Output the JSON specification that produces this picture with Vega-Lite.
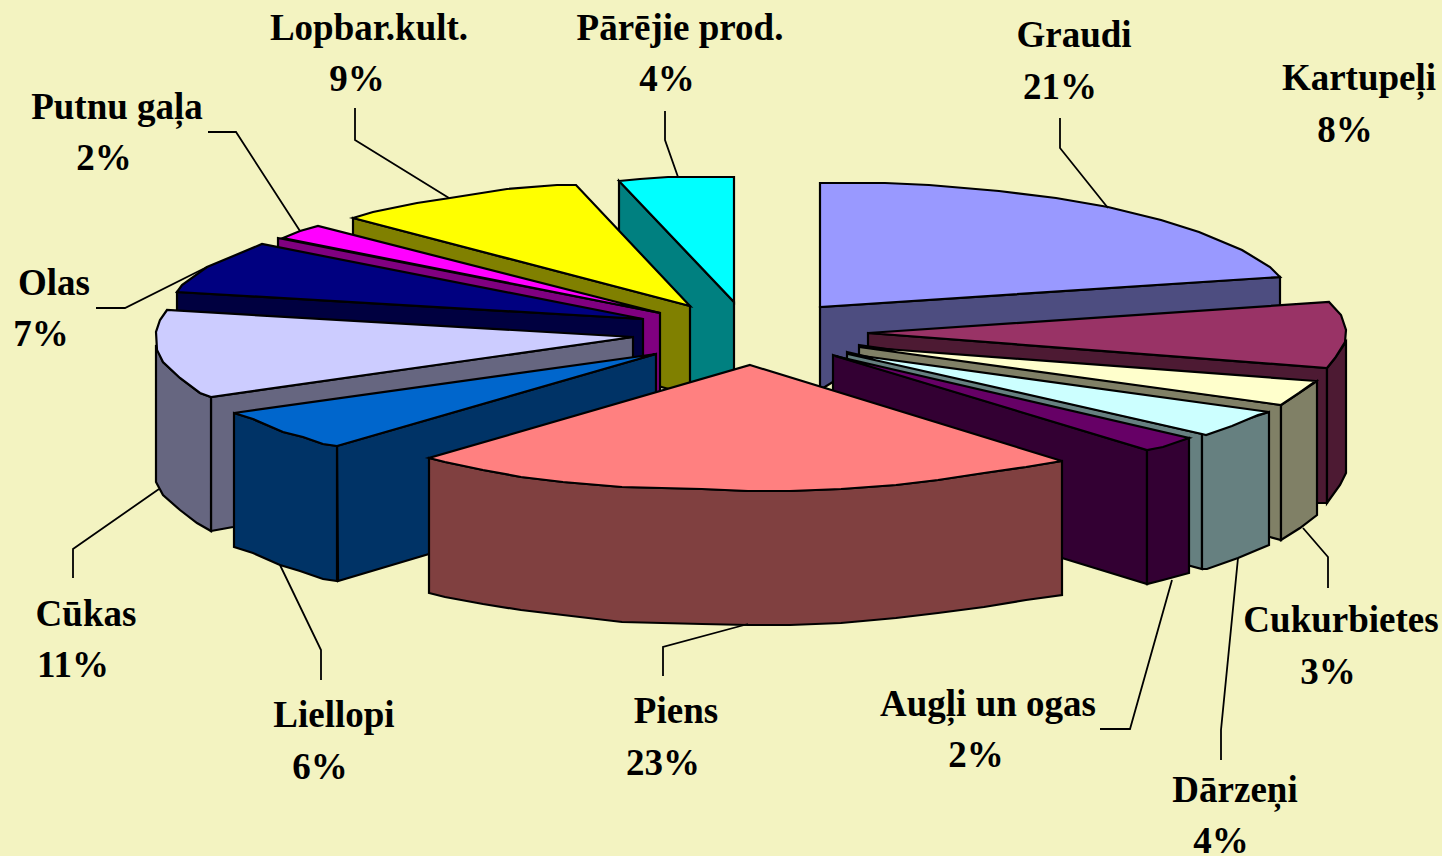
{"$schema":"https://vega.github.io/schema/vega-lite/v6.json","width":1442,"height":856,"padding":0,"autosize":{"type":"none"},"background":"#F3F3C1","view":{"stroke":null},
"datasets":{"shapes":[
{"shape":"Graudi side","i":0,"x":820,"y":307},{"shape":"Graudi side","i":1,"x":1280,"y":277},{"shape":"Graudi side","i":2,"x":1280,"y":320},{"shape":"Graudi side","i":3,"x":868,"y":360},{"shape":"Graudi side","i":4,"x":820,"y":390},
{"shape":"Graudi top","i":0,"x":820,"y":183},{"shape":"Graudi top","i":1,"x":885,"y":183},{"shape":"Graudi top","i":2,"x":929,"y":185},{"shape":"Graudi top","i":3,"x":999,"y":191},{"shape":"Graudi top","i":4,"x":1056,"y":198},{"shape":"Graudi top","i":5,"x":1108,"y":207},{"shape":"Graudi top","i":6,"x":1161,"y":220},{"shape":"Graudi top","i":7,"x":1199,"y":232},{"shape":"Graudi top","i":8,"x":1242,"y":250},{"shape":"Graudi top","i":9,"x":1270,"y":267},{"shape":"Graudi top","i":10,"x":1280,"y":277},{"shape":"Graudi top","i":11,"x":820,"y":307},
{"shape":"Kartupeļi side","i":0,"x":868,"y":333},{"shape":"Kartupeļi side","i":1,"x":1327,"y":368},{"shape":"Kartupeļi side","i":2,"x":1327,"y":503},{"shape":"Kartupeļi side","i":3,"x":1318,"y":503},{"shape":"Kartupeļi side","i":4,"x":1250,"y":480},{"shape":"Kartupeļi side","i":5,"x":868,"y":420},
{"shape":"Kartupeļi wall","i":0,"x":1327,"y":368},{"shape":"Kartupeļi wall","i":1,"x":1335,"y":358},{"shape":"Kartupeļi wall","i":2,"x":1346,"y":342},{"shape":"Kartupeļi wall","i":3,"x":1346,"y":473},{"shape":"Kartupeļi wall","i":4,"x":1340,"y":485},{"shape":"Kartupeļi wall","i":5,"x":1327,"y":503},
{"shape":"Kartupeļi top","i":0,"x":868,"y":333},{"shape":"Kartupeļi top","i":1,"x":1329,"y":302},{"shape":"Kartupeļi top","i":2,"x":1341,"y":315},{"shape":"Kartupeļi top","i":3,"x":1346,"y":330},{"shape":"Kartupeļi top","i":4,"x":1345,"y":342},{"shape":"Kartupeļi top","i":5,"x":1335,"y":358},{"shape":"Kartupeļi top","i":6,"x":1327,"y":368},
{"shape":"Cukurbietes side","i":0,"x":859,"y":345},{"shape":"Cukurbietes side","i":1,"x":1281,"y":405},{"shape":"Cukurbietes side","i":2,"x":1281,"y":540},{"shape":"Cukurbietes side","i":3,"x":1270,"y":537},{"shape":"Cukurbietes side","i":4,"x":1100,"y":490},{"shape":"Cukurbietes side","i":5,"x":859,"y":420},
{"shape":"Cukurbietes wall","i":0,"x":1281,"y":405},{"shape":"Cukurbietes wall","i":1,"x":1299,"y":393},{"shape":"Cukurbietes wall","i":2,"x":1317,"y":381},{"shape":"Cukurbietes wall","i":3,"x":1317,"y":515},{"shape":"Cukurbietes wall","i":4,"x":1300,"y":528},{"shape":"Cukurbietes wall","i":5,"x":1281,"y":540},
{"shape":"Cukurbietes top","i":0,"x":859,"y":347},{"shape":"Cukurbietes top","i":1,"x":1316,"y":381},{"shape":"Cukurbietes top","i":2,"x":1299,"y":393},{"shape":"Cukurbietes top","i":3,"x":1281,"y":405},
{"shape":"Dārzeņi side","i":0,"x":847,"y":352},{"shape":"Dārzeņi side","i":1,"x":1202,"y":434},{"shape":"Dārzeņi side","i":2,"x":1202,"y":569},{"shape":"Dārzeņi side","i":3,"x":1150,"y":555},{"shape":"Dārzeņi side","i":4,"x":847,"y":470},
{"shape":"Dārzeņi wall","i":0,"x":1202,"y":434},{"shape":"Dārzeņi wall","i":1,"x":1269,"y":412},{"shape":"Dārzeņi wall","i":2,"x":1269,"y":545},{"shape":"Dārzeņi wall","i":3,"x":1257,"y":550},{"shape":"Dārzeņi wall","i":4,"x":1238,"y":558},{"shape":"Dārzeņi wall","i":5,"x":1207,"y":569},{"shape":"Dārzeņi wall","i":6,"x":1202,"y":569},
{"shape":"Dārzeņi top","i":0,"x":848,"y":354},{"shape":"Dārzeņi top","i":1,"x":1269,"y":412},{"shape":"Dārzeņi top","i":2,"x":1258,"y":415},{"shape":"Dārzeņi top","i":3,"x":1232,"y":426},{"shape":"Dārzeņi top","i":4,"x":1206,"y":435},{"shape":"Dārzeņi top","i":5,"x":1202,"y":434},
{"shape":"Augļi side","i":0,"x":833,"y":355},{"shape":"Augļi side","i":1,"x":1147,"y":450},{"shape":"Augļi side","i":2,"x":1147,"y":584},{"shape":"Augļi side","i":3,"x":1062,"y":558},{"shape":"Augļi side","i":4,"x":833,"y":470},
{"shape":"Augļi wall","i":0,"x":1147,"y":450},{"shape":"Augļi wall","i":1,"x":1189,"y":438},{"shape":"Augļi wall","i":2,"x":1189,"y":573},{"shape":"Augļi wall","i":3,"x":1163,"y":580},{"shape":"Augļi wall","i":4,"x":1147,"y":584},
{"shape":"Augļi top","i":0,"x":835,"y":356},{"shape":"Augļi top","i":1,"x":1189,"y":438},{"shape":"Augļi top","i":2,"x":1163,"y":447},{"shape":"Augļi top","i":3,"x":1147,"y":450},
{"shape":"Pārējie side","i":0,"x":619,"y":181},{"shape":"Pārējie side","i":1,"x":734,"y":302},{"shape":"Pārējie side","i":2,"x":734,"y":385},{"shape":"Pārējie side","i":3,"x":690,"y":395},{"shape":"Pārējie side","i":4,"x":619,"y":300},
{"shape":"Pārējie top","i":0,"x":619,"y":181},{"shape":"Pārējie top","i":1,"x":640,"y":179},{"shape":"Pārējie top","i":2,"x":668,"y":177},{"shape":"Pārējie top","i":3,"x":734,"y":177},{"shape":"Pārējie top","i":4,"x":734,"y":302},
{"shape":"Lopbar side","i":0,"x":353,"y":218},{"shape":"Lopbar side","i":1,"x":690,"y":306},{"shape":"Lopbar side","i":2,"x":690,"y":395},{"shape":"Lopbar side","i":3,"x":353,"y":300},
{"shape":"Lopbar top","i":0,"x":353,"y":218},{"shape":"Lopbar top","i":1,"x":373,"y":212},{"shape":"Lopbar top","i":2,"x":417,"y":203},{"shape":"Lopbar top","i":3,"x":450,"y":198},{"shape":"Lopbar top","i":4,"x":507,"y":189},{"shape":"Lopbar top","i":5,"x":557,"y":185},{"shape":"Lopbar top","i":6,"x":576,"y":185},{"shape":"Lopbar top","i":7,"x":690,"y":306},
{"shape":"Putnu side","i":0,"x":278,"y":238},{"shape":"Putnu side","i":1,"x":660,"y":313},{"shape":"Putnu side","i":2,"x":660,"y":395},{"shape":"Putnu side","i":3,"x":278,"y":320},
{"shape":"Putnu top","i":0,"x":283,"y":238},{"shape":"Putnu top","i":1,"x":300,"y":231},{"shape":"Putnu top","i":2,"x":318,"y":226},{"shape":"Putnu top","i":3,"x":660,"y":313},
{"shape":"Olas side","i":0,"x":177,"y":292},{"shape":"Olas side","i":1,"x":643,"y":319},{"shape":"Olas side","i":2,"x":643,"y":362},{"shape":"Olas side","i":3,"x":177,"y":320},
{"shape":"Olas top","i":0,"x":177,"y":292},{"shape":"Olas top","i":1,"x":182,"y":285},{"shape":"Olas top","i":2,"x":207,"y":267},{"shape":"Olas top","i":3,"x":262,"y":244},{"shape":"Olas top","i":4,"x":643,"y":319},
{"shape":"Cūkas side","i":0,"x":211,"y":397},{"shape":"Cūkas side","i":1,"x":633,"y":337},{"shape":"Cūkas side","i":2,"x":633,"y":400},{"shape":"Cūkas side","i":3,"x":233,"y":527},{"shape":"Cūkas side","i":4,"x":211,"y":531},
{"shape":"Cūkas wall","i":0,"x":156,"y":345},{"shape":"Cūkas wall","i":1,"x":163,"y":362},{"shape":"Cūkas wall","i":2,"x":180,"y":378},{"shape":"Cūkas wall","i":3,"x":200,"y":393},{"shape":"Cūkas wall","i":4,"x":211,"y":397},{"shape":"Cūkas wall","i":5,"x":211,"y":531},{"shape":"Cūkas wall","i":6,"x":197,"y":523},{"shape":"Cūkas wall","i":7,"x":180,"y":510},{"shape":"Cūkas wall","i":8,"x":163,"y":495},{"shape":"Cūkas wall","i":9,"x":156,"y":482},
{"shape":"Cūkas top","i":0,"x":167,"y":310},{"shape":"Cūkas top","i":1,"x":160,"y":320},{"shape":"Cūkas top","i":2,"x":156,"y":332},{"shape":"Cūkas top","i":3,"x":157,"y":350},{"shape":"Cūkas top","i":4,"x":163,"y":362},{"shape":"Cūkas top","i":5,"x":180,"y":378},{"shape":"Cūkas top","i":6,"x":200,"y":393},{"shape":"Cūkas top","i":7,"x":211,"y":397},{"shape":"Cūkas top","i":8,"x":633,"y":337},
{"shape":"Liellopi side","i":0,"x":337,"y":446},{"shape":"Liellopi side","i":1,"x":656,"y":354},{"shape":"Liellopi side","i":2,"x":656,"y":470},{"shape":"Liellopi side","i":3,"x":429,"y":554},{"shape":"Liellopi side","i":4,"x":338,"y":581},
{"shape":"Liellopi wall","i":0,"x":234,"y":413},{"shape":"Liellopi wall","i":1,"x":253,"y":419},{"shape":"Liellopi wall","i":2,"x":283,"y":432},{"shape":"Liellopi wall","i":3,"x":303,"y":437},{"shape":"Liellopi wall","i":4,"x":323,"y":444},{"shape":"Liellopi wall","i":5,"x":337,"y":446},{"shape":"Liellopi wall","i":6,"x":337,"y":581},{"shape":"Liellopi wall","i":7,"x":323,"y":579},{"shape":"Liellopi wall","i":8,"x":300,"y":571},{"shape":"Liellopi wall","i":9,"x":280,"y":565},{"shape":"Liellopi wall","i":10,"x":253,"y":553},{"shape":"Liellopi wall","i":11,"x":234,"y":547},
{"shape":"Liellopi top","i":0,"x":234,"y":413},{"shape":"Liellopi top","i":1,"x":253,"y":419},{"shape":"Liellopi top","i":2,"x":283,"y":432},{"shape":"Liellopi top","i":3,"x":303,"y":437},{"shape":"Liellopi top","i":4,"x":323,"y":444},{"shape":"Liellopi top","i":5,"x":337,"y":446},{"shape":"Liellopi top","i":6,"x":656,"y":354},
{"shape":"Piens wall","i":0,"x":429,"y":458},{"shape":"Piens wall","i":1,"x":445,"y":462},{"shape":"Piens wall","i":2,"x":483,"y":470},{"shape":"Piens wall","i":3,"x":521,"y":477},{"shape":"Piens wall","i":4,"x":563,"y":482},{"shape":"Piens wall","i":5,"x":622,"y":487},{"shape":"Piens wall","i":6,"x":702,"y":489},{"shape":"Piens wall","i":7,"x":748,"y":491},{"shape":"Piens wall","i":8,"x":790,"y":491},{"shape":"Piens wall","i":9,"x":841,"y":489},{"shape":"Piens wall","i":10,"x":896,"y":485},{"shape":"Piens wall","i":11,"x":938,"y":480},{"shape":"Piens wall","i":12,"x":984,"y":473},{"shape":"Piens wall","i":13,"x":1026,"y":467},{"shape":"Piens wall","i":14,"x":1062,"y":461},{"shape":"Piens wall","i":15,"x":1062,"y":595},{"shape":"Piens wall","i":16,"x":1026,"y":600},{"shape":"Piens wall","i":17,"x":984,"y":607},{"shape":"Piens wall","i":18,"x":938,"y":613},{"shape":"Piens wall","i":19,"x":896,"y":618},{"shape":"Piens wall","i":20,"x":841,"y":623},{"shape":"Piens wall","i":21,"x":790,"y":625},{"shape":"Piens wall","i":22,"x":748,"y":625},{"shape":"Piens wall","i":23,"x":702,"y":624},{"shape":"Piens wall","i":24,"x":622,"y":622},{"shape":"Piens wall","i":25,"x":563,"y":615},{"shape":"Piens wall","i":26,"x":521,"y":610},{"shape":"Piens wall","i":27,"x":483,"y":604},{"shape":"Piens wall","i":28,"x":445,"y":597},{"shape":"Piens wall","i":29,"x":429,"y":593},
{"shape":"Piens top","i":0,"x":750,"y":365},{"shape":"Piens top","i":1,"x":1062,"y":461},{"shape":"Piens top","i":2,"x":1026,"y":467},{"shape":"Piens top","i":3,"x":984,"y":473},{"shape":"Piens top","i":4,"x":938,"y":480},{"shape":"Piens top","i":5,"x":896,"y":485},{"shape":"Piens top","i":6,"x":841,"y":489},{"shape":"Piens top","i":7,"x":790,"y":491},{"shape":"Piens top","i":8,"x":748,"y":491},{"shape":"Piens top","i":9,"x":702,"y":489},{"shape":"Piens top","i":10,"x":622,"y":487},{"shape":"Piens top","i":11,"x":563,"y":482},{"shape":"Piens top","i":12,"x":521,"y":477},{"shape":"Piens top","i":13,"x":483,"y":470},{"shape":"Piens top","i":14,"x":445,"y":462},{"shape":"Piens top","i":15,"x":429,"y":458}
],
"leaders":[
{"name":"Graudi","i":0,"x":1060,"y":118},{"name":"Graudi","i":1,"x":1060,"y":148},{"name":"Graudi","i":2,"x":1108,"y":208},
{"name":"Pārējie prod.","i":0,"x":665,"y":111},{"name":"Pārējie prod.","i":1,"x":665,"y":140},{"name":"Pārējie prod.","i":2,"x":678,"y":177},
{"name":"Lopbar.kult.","i":0,"x":355,"y":108},{"name":"Lopbar.kult.","i":1,"x":355,"y":140},{"name":"Lopbar.kult.","i":2,"x":449,"y":198},
{"name":"Putnu gaļa","i":0,"x":208,"y":132},{"name":"Putnu gaļa","i":1,"x":236,"y":132},{"name":"Putnu gaļa","i":2,"x":300,"y":231},
{"name":"Olas","i":0,"x":96,"y":308},{"name":"Olas","i":1,"x":125,"y":308},{"name":"Olas","i":2,"x":207,"y":267},
{"name":"Cūkas","i":0,"x":73,"y":578},{"name":"Cūkas","i":1,"x":73,"y":549},{"name":"Cūkas","i":2,"x":159,"y":489},
{"name":"Liellopi","i":0,"x":321,"y":680},{"name":"Liellopi","i":1,"x":321,"y":650},{"name":"Liellopi","i":2,"x":280,"y":565},
{"name":"Piens","i":0,"x":663,"y":676},{"name":"Piens","i":1,"x":663,"y":647},{"name":"Piens","i":2,"x":748,"y":624},
{"name":"Augļi un ogas","i":0,"x":1100,"y":729},{"name":"Augļi un ogas","i":1,"x":1130,"y":729},{"name":"Augļi un ogas","i":2,"x":1172,"y":580},
{"name":"Dārzeņi","i":0,"x":1221,"y":760},{"name":"Dārzeņi","i":1,"x":1221,"y":730},{"name":"Dārzeņi","i":2,"x":1238,"y":558},
{"name":"Cukurbietes","i":0,"x":1328,"y":588},{"name":"Cukurbietes","i":1,"x":1328,"y":557},{"name":"Cukurbietes","i":2,"x":1303,"y":528}
],
"labels":[
{"text":"Graudi","x":1074,"y":47},{"text":"21%","x":1060,"y":99},
{"text":"Kartupeļi","x":1359,"y":90},{"text":"8%","x":1345,"y":142},
{"text":"Pārējie prod.","x":680,"y":40},{"text":"4%","x":667,"y":91},
{"text":"Lopbar.kult.","x":369,"y":40},{"text":"9%","x":357,"y":91},
{"text":"Putnu gaļa","x":117,"y":119},{"text":"2%","x":104,"y":170},
{"text":"Olas","x":54,"y":295},{"text":"7%","x":41,"y":346},
{"text":"Cūkas","x":86,"y":626},{"text":"11%","x":73,"y":677},
{"text":"Liellopi","x":334,"y":727},{"text":"6%","x":320,"y":779},
{"text":"Piens","x":676,"y":723},{"text":"23%","x":663,"y":775},
{"text":"Augļi un ogas","x":988,"y":716},{"text":"2%","x":976,"y":767},
{"text":"Dārzeņi","x":1235,"y":802},{"text":"4%","x":1221,"y":853},
{"text":"Cukurbietes","x":1341,"y":632},{"text":"3%","x":1328,"y":684}
]},
"encoding":{
"x":{"field":"x","type":"quantitative","axis":null,"scale":{"domain":[0,1442],"nice":false,"zero":false}},
"y":{"field":"y","type":"quantitative","axis":null,"scale":{"domain":[856,0],"nice":false,"zero":false}}
},
"layer":[
{"data":{"name":"shapes"},"mark":{"type":"line","interpolate":"linear-closed","stroke":"#000000","strokeWidth":2.2,"strokeJoin":"miter"},
"encoding":{"detail":{"field":"shape"},"order":{"field":"i","type":"quantitative"},
"fill":{"field":"shape","type":"nominal","legend":null,"scale":{
"domain":["Graudi side","Graudi top","Kartupeļi side","Kartupeļi wall","Kartupeļi top","Cukurbietes side","Cukurbietes wall","Cukurbietes top","Dārzeņi side","Dārzeņi wall","Dārzeņi top","Augļi side","Augļi wall","Augļi top","Pārējie side","Pārējie top","Lopbar side","Lopbar top","Putnu side","Putnu top","Olas side","Olas top","Cūkas side","Cūkas wall","Cūkas top","Liellopi side","Liellopi wall","Liellopi top","Piens wall","Piens top"],
"range":["#4D4D80","#9999FF","#4D1A33","#4D1A33","#993366","#808066","#808066","#FFFFCC","#668080","#668080","#CCFFFF","#330033","#330033","#660066","#008080","#00FFFF","#808000","#FFFF00","#800080","#FF00FF","#000040","#000080","#666680","#666680","#CCCCFF","#003366","#003366","#0066CC","#804040","#FF8080"]}}}},
{"data":{"name":"leaders"},"mark":{"type":"line","stroke":"#000000","strokeWidth":1.8},"encoding":{"detail":{"field":"name"},"order":{"field":"i","type":"quantitative"}}},
{"data":{"name":"labels"},"mark":{"type":"text","font":"Liberation Serif","fontWeight":"bold","fontSize":37,"align":"center","baseline":"alphabetic","color":"#000000"},"encoding":{"text":{"field":"text"}}}
]}
